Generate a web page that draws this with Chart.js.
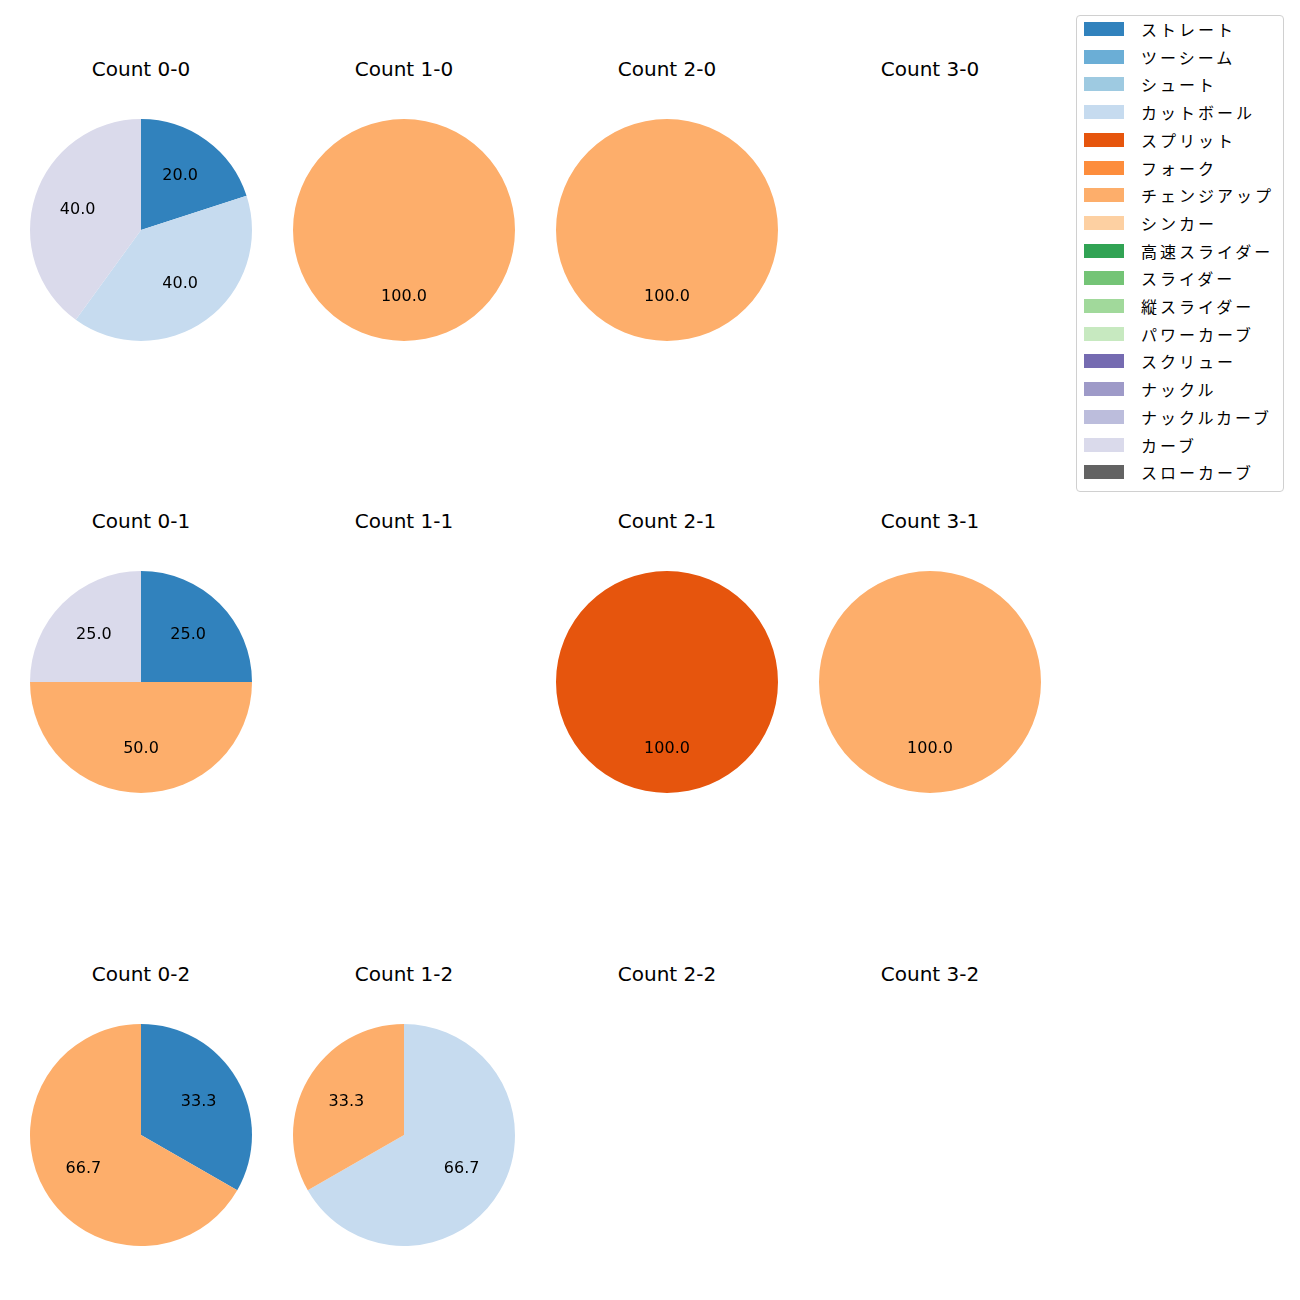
<!DOCTYPE html>
<html lang="ja">
<head>
    <meta charset="UTF-8">
    <title>カウント別球種</title>
    <script src="https://cdn.jsdelivr.net/npm/chart.js"></script>
    <style>
        body {
            margin: 0;
            background: #fff;
            font-family: "DejaVu Sans", "Noto Sans CJK JP", sans-serif;
        }
        #wrap {
            position: relative;
            width: 1300px;
            height: 1300px;
        }
        .title {
            position: absolute;
            width: 200px;
            text-align: center;
            font-size: 20px;
            color: #000;
            line-height: 20px;
        }
        .pie {
            position: absolute;
        }
        #legend {
            position: absolute;
            left: 1076px;
            top: 15px;
            width: 208px;
            height: 477px;
            border: 1px solid #d0d0d0;
            border-radius: 4px;
            box-sizing: border-box;
        }
        .item {
            position: absolute;
            left: 7px;
            height: 20px;
            font-size: 16px;
            line-height: 20px;
            font-family: "Noto Sans CJK JP", sans-serif;
        }
        .item span.sw {
            position: absolute;
            left: 0;
            top: 3px;
            width: 40px;
            height: 14px;
        }
        .item span.tx {
            position: absolute;
            left: 57px;
            white-space: nowrap;
            letter-spacing: 3px;
        }
    </style>
</head>
<body>
<div id="wrap">
    <div id="legend"></div>
</div>
<script>
    // 球種と色
    const pitchTypes = ['ストレート', 'ツーシーム', 'シュート', 'カットボール', 'スプリット', 'フォーク',
        'チェンジアップ', 'シンカー', '高速スライダー', 'スライダー', '縦スライダー', 'パワーカーブ',
        'スクリュー', 'ナックル', 'ナックルカーブ', 'カーブ', 'スローカーブ'];
    const pitchColors = ['#3182bd', '#6baed6', '#9ecae1', '#c6dbef', '#e6550d', '#fd8d3c',
        '#fdae6b', '#fdd0a2', '#31a354', '#74c476', '#a1d99b', '#c7e9c0',
        '#756bb1', '#9e9ac8', '#bcbddc', '#dadaeb', '#636363'];

    // カウント (ボール-ストライク)
    const countLabels = ['0-0', '1-0', '2-0', '3-0', '0-1', '1-1', '2-1', '3-1', '0-2', '1-2', '2-2', '3-2'];

    // 各カウントの割合 (%): pitchTypes と同じ順
    const count00 = [20, 0, 0, 40, 0, 0, 0, 0, 0, 0, 0, 0, 0, 0, 0, 40, 0];
    const count10 = [0, 0, 0, 0, 0, 0, 100, 0, 0, 0, 0, 0, 0, 0, 0, 0, 0];
    const count20 = [0, 0, 0, 0, 0, 0, 100, 0, 0, 0, 0, 0, 0, 0, 0, 0, 0];
    const count30 = [];
    const count01 = [25, 0, 0, 0, 0, 0, 50, 0, 0, 0, 0, 0, 0, 0, 0, 25, 0];
    const count11 = [];
    const count21 = [0, 0, 0, 0, 100, 0, 0, 0, 0, 0, 0, 0, 0, 0, 0, 0, 0];
    const count31 = [0, 0, 0, 0, 0, 0, 100, 0, 0, 0, 0, 0, 0, 0, 0, 0, 0];
    const count02 = [33.3, 0, 0, 0, 0, 0, 66.7, 0, 0, 0, 0, 0, 0, 0, 0, 0, 0];
    const count12 = [0, 0, 0, 66.7, 0, 0, 33.3, 0, 0, 0, 0, 0, 0, 0, 0, 0, 0];
    const count22 = [];
    const count32 = [];
    const countValues = [count00, count10, count20, count30, count01, count11, count21, count31, count02, count12, count22, count32];

    const colX = [141, 404, 667, 930];
    const rowY = [230, 682, 1135];
    const R = 111;

    // 割合ラベル (半径の0.6の位置)
    const pctLabels = {
        id: 'pctLabels',
        afterDatasetsDraw(chart) {
            const ctx = chart.ctx;
            const meta = chart.getDatasetMeta(0);
            const vals = chart.data.datasets[0].data;
            ctx.save();
            ctx.font = '16px "DejaVu Sans", sans-serif';
            ctx.fillStyle = '#000';
            ctx.textAlign = 'center';
            ctx.textBaseline = 'middle';
            meta.data.forEach((arc, i) => {
                if (!vals[i]) return;
                const p = arc.getProps(['x', 'y', 'startAngle', 'endAngle', 'outerRadius'], true);
                const mid = (p.startAngle + p.endAngle) / 2;
                const r = p.outerRadius * 0.6;
                ctx.fillText(vals[i].toFixed(1), p.x + Math.cos(mid) * r, p.y + Math.sin(mid) * r);
            });
            ctx.restore();
        }
    };

    const wrap = document.getElementById('wrap');

    countLabels.forEach((lab, k) => {
        const cx = colX[k % 4];
        const cy = rowY[Math.floor(k / 4)];

        const t = document.createElement('div');
        t.className = 'title';
        t.style.left = (cx - 100) + 'px';
        t.style.top = (cy - 171) + 'px';
        t.textContent = 'Count ' + lab;
        wrap.appendChild(t);

        const vals = countValues[k];
        if (!vals.length) return;

        const size = R * 2;
        const c = document.createElement('canvas');
        c.className = 'pie';
        c.width = size;
        c.height = size;
        c.style.left = (cx - R) + 'px';
        c.style.top = (cy - R) + 'px';
        c.style.width = size + 'px';
        c.style.height = size + 'px';
        wrap.appendChild(c);

        new Chart(c.getContext('2d'), {
            type: 'pie',
            data: {
                labels: pitchTypes,
                datasets: [{
                    data: vals,
                    backgroundColor: pitchColors,
                    borderWidth: 0
                }]
            },
            options: {
                responsive: false,
                animation: false,
                layout: { padding: 0 },
                plugins: {
                    legend: { display: false },
                    tooltip: { enabled: false }
                }
            },
            plugins: [pctLabels]
        });
    });

    // 凡例
    const legend = document.getElementById('legend');
    pitchTypes.forEach((name, i) => {
        const it = document.createElement('div');
        it.className = 'item';
        it.style.top = (3 + i * 27.7) + 'px';
        it.innerHTML = '<span class="sw"></span><span class="tx"></span>';
        it.querySelector('.sw').style.background = pitchColors[i];
        it.querySelector('.tx').textContent = name;
        legend.appendChild(it);
    });
</script>
</body>
</html>
